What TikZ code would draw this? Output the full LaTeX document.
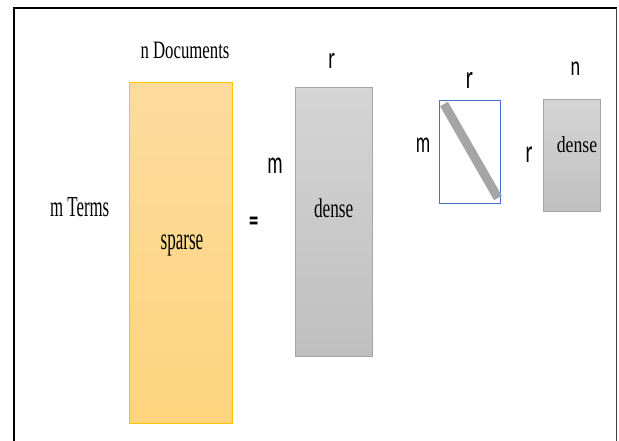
\documentclass[tikz,border=0pt]{standalone}
\usepackage{graphicx}
\usepackage{fontspec}
\setmainfont{Liberation Serif}
\newfontfamily\sansf{Carlito}
\definecolor{orgtop}{HTML}{FDDB9D}
\definecolor{orgbot}{HTML}{FED47E}
\definecolor{orgline}{HTML}{FFC000}
\definecolor{grtop}{HTML}{D5D5D5}
\definecolor{grbot}{HTML}{BFBFBF}
\definecolor{grline}{HTML}{A5A5A5}
\definecolor{blueline}{HTML}{4472C4}
\newcommand\mysz[3]{\fontsize{#1}{#1}\selectfont\scalebox{#2}[1]{#3}}
\begin{document}
\begin{tikzpicture}[x=1pt,y=-1pt,
  lbl/.style={inner sep=0pt, outer sep=0pt, anchor=base},
  mat/.style={draw, inner sep=0pt, outer sep=0pt, anchor=north west, line width=0.8pt},
  orgmat/.style={mat, draw=orgline, top color=orgtop, bottom color=orgbot},
  graymat/.style={mat, draw=grline, top color=grtop, bottom color=grbot}]
\useasboundingbox (0,0) rectangle (619,440);
% frame
\draw[line width=1.8pt, black] (14,445) -- (14,8.3) -- (616.7,8.3);
\draw[line width=1.2pt, black!75] (616.7,8.3) -- (616.7,445);
% matrices
\node[orgmat, minimum width=103.4pt, minimum height=340.7pt] (A) at (129.3,82.3) {};
\node[graymat, minimum width=77.7pt, minimum height=268.3pt] (U) at (295,87.7) {};
\node[mat, draw=blueline, line width=0.8pt, minimum width=61pt, minimum height=102.3pt] (S) at (439,100.7) {};
\node[graymat, minimum width=57pt, minimum height=112.7pt] (V) at (543,99) {};
\coordinate (d1) at (444,104);
\coordinate (d2) at (498,198);
\draw[line width=9pt, grline] (d1) -- (d2);
% serif labels
\node[lbl] (nd) at (185,58.3) {\mysz{25}{0.67}{n Documents}};
\node[lbl] (mt) at (79.7,216.7) {\mysz{29}{0.58}{m Terms}};
\node[lbl] (sp) at (182,249.3) {\mysz{31}{0.55}{sparse}};
\node[lbl] (de1) at (333.7,217.3) {\mysz{27}{0.64}{dense}};
\node[lbl] (de2) at (577,152) {\mysz{23}{0.77}{dense}};
% sans labels
\node[lbl] (eq) at (253.8,230) {\sansf\bfseries\mysz{30}{0.62}{=}};
\node[lbl] (m1) at (275,173.3) {\sansf\mysz{32}{0.6}{m}};
\node[lbl] (r1) at (331.8,68.3) {\sansf\mysz{31}{0.62}{r}};
\node[lbl] (r2) at (469.5,88.3) {\sansf\mysz{33}{0.62}{r}};
\node[lbl] (n1) at (575.5,75) {\sansf\mysz{28}{0.65}{n}};
\node[lbl] (m2) at (423,152.5) {\sansf\mysz{30}{0.6}{m}};
\node[lbl] (r3) at (529,162) {\sansf\mysz{32}{0.62}{r}};
\end{tikzpicture}
\end{document}
